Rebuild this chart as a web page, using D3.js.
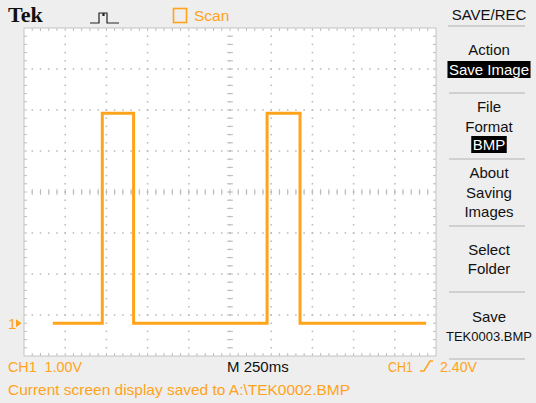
<!DOCTYPE html>
<html>
<head>
<meta charset="utf-8">
<script src="https://cdn.jsdelivr.net/npm/d3@7"></script>
<style>
  html, body { margin: 0; padding: 0; background: #eeeeee; }
  svg { display: block; }
</style>
</head>
<body>
<svg id="scope" width="536" height="403"></svg>
<script>
// Captured CH1 waveform: time (ms from left edge of record) and voltage (V)
const traceTimes  = [175, 475, 475, 665, 665, 1475, 1475, 1675, 1675, 2440];
const traceVolts  = [0,   0,   5.12, 5.12, 0,  0,    5.12, 5.12, 0,    0];

// Scope settings
const timePerDiv = 250;       // ms/div
const voltsPerDiv = 1.0;      // V/div
const groundOffsetDiv = 3.2;  // ground marker position below centre, in divisions
const hDivs = 10, vDivs = 8, minorPerDiv = 5;

// Softkey menu
const menuTitle = "SAVE/REC";
const menuItems = [
  { lines: ["Action"], boxed: "Save Image" },
  { lines: ["File", "Format"], boxed: "BMP" },
  { lines: ["About", "Saving", "Images"], boxed: null },
  { lines: ["Select", "Folder"], boxed: null },
  { lines: ["Save", "TEK0003.BMP"], boxed: null }
];

// Status readouts
const chScaleLabel = "CH1  1.00V";
const timebaseLabel = "M 250ms";
const triggerLabel = ["CH1", "2.40V"];
const statusMessage = "Current screen display saved to A:\\TEK0002.BMP";
const acqMode = "Scan";

const ORANGE = "#ffa31a";
const SANS = "'Liberation Sans', Arial, sans-serif";
const svg = d3.select("#scope").style("font-family", SANS);

// Graticule area
const gL = 24, gR = 436, gT = 28, gB = 356;
const x = d3.scaleLinear().domain([0, hDivs * timePerDiv]).range([gL, gR]);
const yBottom = -(vDivs / 2 - groundOffsetDiv) * voltsPerDiv;
const yTop = yBottom + vDivs * voltsPerDiv;
const y = d3.scaleLinear().domain([yBottom, yTop]).range([gB, gT]);

svg.append("rect").attr("width", 536).attr("height", 403).attr("fill", "#eeeeee");
svg.append("rect").attr("x", gL).attr("y", gT).attr("width", gR - gL).attr("height", gB - gT)
  .attr("fill", "#ffffff");

const grid = svg.append("g").attr("fill", "#b8b8b8");
const minorT = timePerDiv / minorPerDiv, minorV = voltsPerDiv / minorPerDiv;
const majorTimes = d3.range(0, hDivs + 1).map(k => k * timePerDiv);
const majorVolts = d3.range(0, vDivs + 1).map(k => yBottom + k * voltsPerDiv);
const minorTimes = d3.range(0, hDivs * minorPerDiv + 1).map(k => k * minorT);
const minorVolts = d3.range(0, vDivs * minorPerDiv + 1).map(k => yBottom + k * minorV);

// dotted division lines
majorTimes.slice(1, -1).forEach(t => {
  minorVolts.slice(1, -1).forEach(v => {
    grid.append("rect").attr("x", x(t) - 0.75).attr("y", y(v) - 0.75).attr("width", 1.5).attr("height", 1.5);
  });
});
majorVolts.slice(1, -1).forEach(v => {
  minorTimes.slice(1, -1).forEach(t => {
    grid.append("rect").attr("x", x(t) - 0.75).attr("y", y(v) - 0.75).attr("width", 1.5).attr("height", 1.5);
  });
});

// centre cross tick marks
const cx = x(hDivs * timePerDiv / 2), cy = y(yBottom + vDivs * voltsPerDiv / 2);
const ticks = svg.append("g").attr("stroke", "#bdbdbd").attr("stroke-width", 1);
minorTimes.slice(1, -1).forEach(t => {
  ticks.append("line").attr("x1", x(t)).attr("x2", x(t)).attr("y1", cy - 3).attr("y2", cy + 3);
});
minorVolts.slice(1, -1).forEach(v => {
  ticks.append("line").attr("x1", cx - 3).attr("x2", cx + 3).attr("y1", y(v)).attr("y2", y(v));
});
// edge ticks
minorTimes.slice(1, -1).forEach(t => {
  ticks.append("line").attr("x1", x(t)).attr("x2", x(t)).attr("y1", gT).attr("y2", gT + 3);
  ticks.append("line").attr("x1", x(t)).attr("x2", x(t)).attr("y1", gB - 3).attr("y2", gB);
});
minorVolts.slice(1, -1).forEach(v => {
  ticks.append("line").attr("x1", gL).attr("x2", gL + 3).attr("y1", y(v)).attr("y2", y(v));
  ticks.append("line").attr("x1", gR - 3).attr("x2", gR).attr("y1", y(v)).attr("y2", y(v));
});
svg.append("rect").attr("x", gL).attr("y", gT).attr("width", gR - gL).attr("height", gB - gT)
  .attr("fill", "none").attr("stroke", "#c4c4c4").attr("stroke-width", 1);

// waveform
const line = d3.line().x(d => x(d[0])).y(d => y(d[1]));
svg.append("path")
  .datum(traceTimes.map((t, i) => [t, traceVolts[i]]))
  .attr("d", line)
  .attr("fill", "none").attr("stroke", ORANGE).attr("stroke-width", 3)
  .attr("stroke-linejoin", "miter");

// ground marker "1▸"
const gy = y(0);
svg.append("text").attr("x", 8).attr("y", gy + 5.5).attr("fill", ORANGE)
  .style("font-size", "15px").text("1");
svg.append("path").attr("d", `M16,${gy - 4} L21.5,${gy} L16,${gy + 4} Z`).attr("fill", ORANGE);

// header
svg.append("text").attr("x", 8).attr("y", 22)
  .style("font-family", "'Liberation Serif', 'DejaVu Serif', serif")
  .style("font-weight", "bold").style("font-size", "22px").attr("fill", "#111").text("Tek");
// trigger-state icon
svg.append("path").attr("d", "M90,23 H99 V13 H103 V15.5 H104 V13 H107 V23 H119")
  .attr("fill", "none").attr("stroke", "#222").attr("stroke-width", 1.2);
svg.append("rect").attr("x", 173.5).attr("y", 8.5).attr("width", 13).attr("height", 14)
  .attr("fill", "none").attr("stroke", ORANGE).attr("stroke-width", 1.6);
svg.append("text").attr("x", 194).attr("y", 21).attr("fill", ORANGE).style("font-size", "15.5px").text(acqMode);

// softkey menu
const mx = 489;
const menuFont = 15;
const menu = svg.append("g").attr("text-anchor", "middle").style("font-size", menuFont + "px").attr("fill", "#111");
menu.append("text").attr("x", mx).attr("y", 20).text(menuTitle);
const sepColor = "#c6c6c6";
svg.append("line").attr("x1", 448).attr("x2", 525).attr("y1", 26).attr("y2", 26)
  .attr("stroke", sepColor).attr("stroke-width", 1.5);
const sepYs = [93, 159, 226, 292, 359];
sepYs.forEach(sy => svg.append("line").attr("x1", 449).attr("x2", 525).attr("y1", sy).attr("y2", sy)
  .attr("stroke", sepColor).attr("stroke-width", 1.5));

const itemBaselines = [[55], [112, 132], [178, 198, 217], [255, 274], [322, 341]];
const boxBaselines = [75, 150, null, null, null];
const maxWidth = 86;
menuItems.forEach((item, i) => {
  item.lines.forEach((s, j) => {
    const t = menu.append("text").attr("x", mx).attr("y", itemBaselines[i][j]).text(s);
    const w = t.node().getComputedTextLength();
    if (w > maxWidth) {
      // shrink long entries so they stay inside the softkey column
      t.style("font-size", (menuFont * maxWidth / w).toFixed(2) + "px");
    }
  });
  if (item.boxed) {
    const t = menu.append("text").attr("x", mx).attr("y", boxBaselines[i]).attr("fill", "#fff").text(item.boxed);
    const bb = t.node().getBBox();
    menu.insert("rect", "text:last-child")
      .attr("x", bb.x - 1.5).attr("y", boxBaselines[i] - 14).attr("width", bb.width + 3).attr("height", 17)
      .attr("fill", "#000");
  }
});

// bottom readouts
const bottom = svg.append("g").style("font-size", "15px");
bottom.append("text").attr("x", 8).attr("y", 372).attr("fill", ORANGE)
  .style("white-space", "pre").attr("textLength", 74).attr("lengthAdjust", "spacingAndGlyphs")
  .text(chScaleLabel);
bottom.append("text").attr("x", 227).attr("y", 372).attr("fill", "#111").text(timebaseLabel);
bottom.append("text").attr("x", 388).attr("y", 372).attr("fill", ORANGE)
  .attr("textLength", 25).attr("lengthAdjust", "spacingAndGlyphs").text(triggerLabel[0]);
svg.append("path").attr("d", "M420,371 H424 L430,361 H433").attr("fill", "none")
  .attr("stroke", ORANGE).attr("stroke-width", 1.5);
bottom.append("text").attr("x", 440).attr("y", 372).attr("fill", ORANGE)
  .attr("textLength", 37).attr("lengthAdjust", "spacingAndGlyphs").text(triggerLabel[1]);
bottom.append("text").attr("x", 8).attr("y", 395).attr("fill", ORANGE)
  .attr("textLength", 342).attr("lengthAdjust", "spacingAndGlyphs").text(statusMessage);
</script>
</body>
</html>
